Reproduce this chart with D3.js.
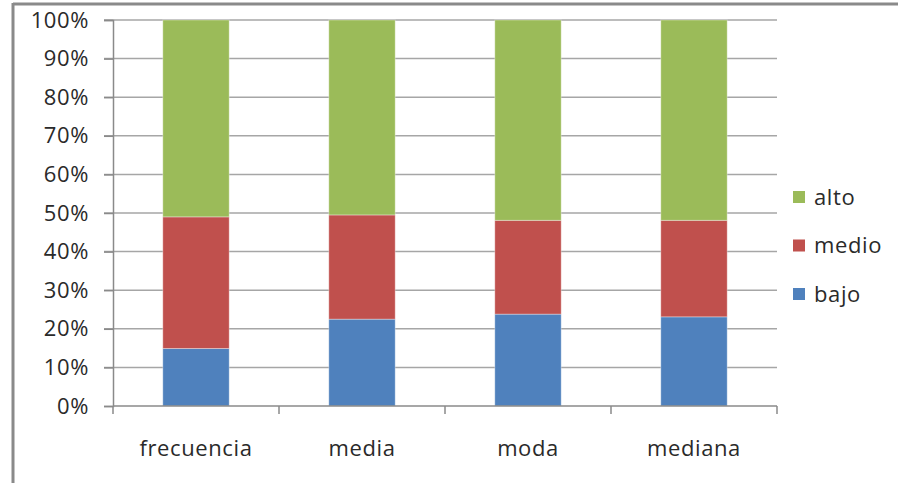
<!DOCTYPE html>
<html><head><meta charset="utf-8">
<script src="https://cdn.jsdelivr.net/npm/d3@7"></script>
<style>body{margin:0;background:#fff}svg{display:block}</style>
</head><body>
<svg id="c" width="898" height="483"></svg>
<script>
const categories = ["frecuencia", "media", "moda", "mediana"];
const seriesNames = ["bajo", "medio", "alto"];
const bajo  = [14.9, 22.5, 23.8, 23.1];
const medio = [34.1, 27.0, 24.3, 25.0];
const alto  = [51.0, 50.5, 51.9, 51.9];
const yTicks = [0, 10, 20, 30, 40, 50, 60, 70, 80, 90, 100];
const colors = {bajo: "#4F81BD", medio: "#C0504D", alto: "#9BBB59"};

(function () {
const svg = d3.select("#c");
const font = "'Open Sans', sans-serif";
const fs = 22;
const ls = 0.6;
const txt = "#2a2a2a";
const pLeft = 113, pRight = 777, pTop = 20, pBottom = 406;

// frame
svg.append("line").attr("x1", 13).attr("x2", 898).attr("y1", 4).attr("y2", 4).attr("stroke", "#8a8a8a").attr("stroke-width", 3);
svg.append("line").attr("x1", 13).attr("x2", 13).attr("y1", 3).attr("y2", 483).attr("stroke", "#8a8a8a").attr("stroke-width", 3);

const x = d3.scaleBand().domain(categories).range([pLeft, pRight]).paddingInner(0.6).paddingOuter(0.3);
const xb = d3.scaleBand().domain(categories).range([pLeft, pRight]);
const y = d3.scaleLinear().domain([0, 100]).range([pBottom, pTop]);

// gridlines
svg.append("g").selectAll("line").data(yTicks.filter(d => d > 0)).join("line")
  .attr("x1", pLeft - 9).attr("x2", pRight).attr("y1", d => y(d)).attr("y2", d => y(d))
  .attr("stroke", "#a6a6a6").attr("stroke-width", 1.5);

// y axis
const yAxis = svg.append("g").attr("transform", `translate(${pLeft},0)`)
  .call(d3.axisLeft(y).tickValues(yTicks).tickFormat(d => d + "%").tickSize(9).tickPadding(15));
yAxis.select(".domain").attr("stroke", "#8a8a8a").attr("stroke-width", 1.5);
yAxis.selectAll(".tick line").attr("stroke", "#8a8a8a").attr("stroke-width", 1.5);
yAxis.selectAll("text").attr("font-family", font).attr("font-size", fs).attr("letter-spacing", ls).attr("fill", txt);

// stacked bars
const rows = categories.map((c, i) => ({cat: c, bajo: bajo[i], medio: medio[i], alto: alto[i]}));
const stack = d3.stack().keys(seriesNames)(rows);
svg.append("g").selectAll("g").data(stack).join("g")
  .attr("fill", d => colors[d.key])
  .selectAll("rect").data(d => d).join("rect")
  .attr("x", d => x(d.data.cat)).attr("width", x.bandwidth())
  .attr("y", d => y(d[1])).attr("height", d => y(d[0]) - y(d[1]))
  .attr("stroke", "rgba(255,255,255,0.35)").attr("stroke-width", 1);

// x axis
svg.append("line").attr("x1", pLeft).attr("x2", pRight).attr("y1", pBottom).attr("y2", pBottom)
  .attr("stroke", "#8a8a8a").attr("stroke-width", 1.5);
const bounds = categories.map(c => xb(c)).concat([pRight]);
svg.append("g").selectAll("line").data(bounds).join("line")
  .attr("x1", d => d).attr("x2", d => d).attr("y1", pBottom).attr("y2", pBottom + 8)
  .attr("stroke", "#8a8a8a").attr("stroke-width", 1.5);
svg.append("g").selectAll("text").data(categories).join("text")
  .attr("x", d => xb(d) + xb.bandwidth() / 2).attr("y", 456)
  .attr("text-anchor", "middle").attr("font-family", font).attr("font-size", fs).attr("letter-spacing", ls).attr("fill", txt)
  .text(d => d);

// legend
const legendOrder = ["alto", "medio", "bajo"];
const leg = svg.append("g").selectAll("g").data(legendOrder).join("g")
  .attr("transform", (d, i) => `translate(793,${197 + i * 48.5})`);
leg.append("rect").attr("x", 0).attr("y", -6).attr("width", 12).attr("height", 12).attr("fill", d => colors[d]);
leg.append("text").attr("x", 21).attr("y", 0).attr("dy", "0.35em")
  .attr("font-family", font).attr("font-size", fs).attr("letter-spacing", ls).attr("fill", txt).text(d => d);
})();
</script>
</body></html>
